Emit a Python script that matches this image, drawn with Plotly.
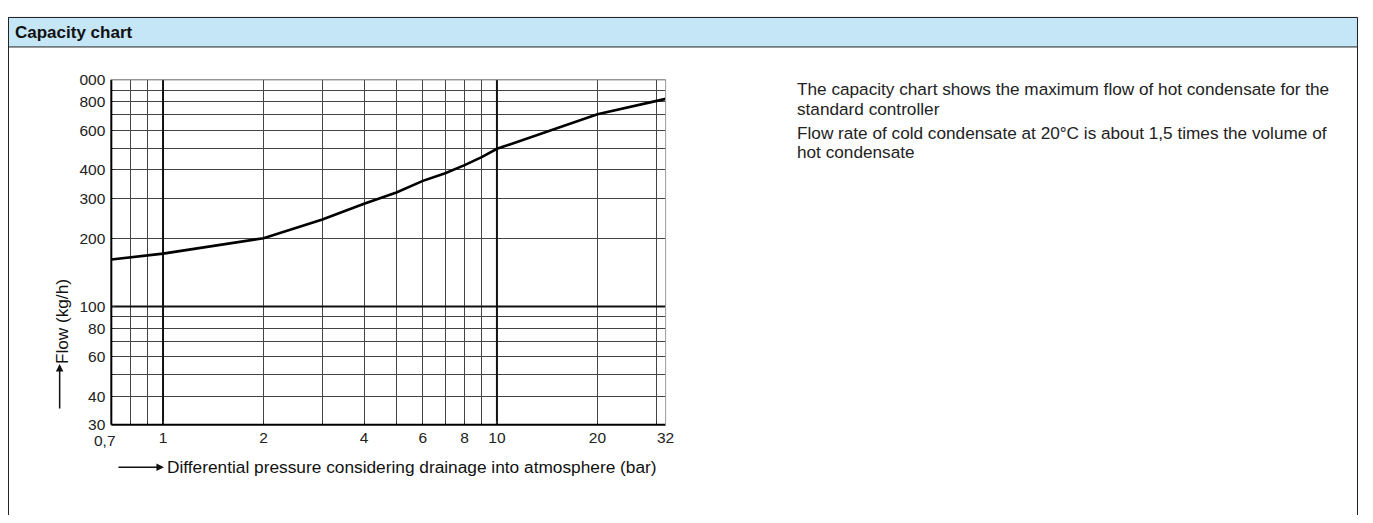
import plotly.graph_objects as go
import numpy as np

# ---- data ----
pressure = [0.7, 1, 2, 3, 4, 5, 6, 7, 8, 9, 10, 20, 32]
flow = [161, 171, 200, 242, 284, 318, 358, 387, 420, 456, 496, 704, 824]

x_grid = [0.7, 0.8, 0.9, 1, 2, 3, 4, 5, 6, 7, 8, 9, 10, 20, 30, 32]
x_labels = ["", "", "", "1", "2", "", "4", "", "6", "", "8", "", "10", "20", "", "32"]
y_grid = [30, 40, 50, 60, 70, 80, 90, 100, 200, 300, 400, 500, 600, 700, 800, 900, 1000]
y_labels = ["30", "40", "", "60", "", "80", "", "100", "200", "300", "400", "", "600", "", "800", "", "000"]
first_x_label = "0,7"
major_x = [1, 10]
major_y = [100]

header_title = "Capacity chart"
x_title = "Differential pressure considering drainage into atmosphere (bar)"
y_title = "Flow (kg/h)"
notes = [
    ["The capacity chart shows the maximum flow of hot condensate for the", "standard controller"],
    ["Flow rate of cold condensate at 20°C is about 1,5 times the volume of", "hot condensate"],
]

# page body margin offsets the figure by 8px; keep figure inside the window
OFF = 8
W, H = 1373 - 2 * OFF, 523 - 2 * OFF
FONT = "Liberation Sans, Arial, sans-serif"


def px(x):
    return (x - OFF) / W


def py(y):
    return 1 - (y - OFF) / H


fig = go.Figure()

for xv in major_x:
    fig.add_trace(go.Scatter(x=[xv, xv], y=[y_grid[0], y_grid[-1]], mode="lines",
                             line=dict(color="#111", width=2), hoverinfo="skip", showlegend=False))
for yv in major_y:
    fig.add_trace(go.Scatter(x=[pressure[0], pressure[-1]], y=[yv, yv], mode="lines",
                             line=dict(color="#111", width=2), hoverinfo="skip", showlegend=False))

fig.add_trace(go.Scatter(x=pressure, y=flow, mode="lines",
                         line=dict(color="#000", width=2.6), showlegend=False))

fig.update_xaxes(type="log", range=[np.log10(0.7), np.log10(32)],
                 domain=[px(112), px(670)],
                 tickvals=x_grid, ticktext=x_labels,
                 showgrid=True, gridcolor="#444", gridwidth=1.2,
                 ticks="inside", ticklen=4, tickcolor="#333",
                 ticklabelstandoff=2,
                 showline=False, zeroline=False,
                 tickfont=dict(family=FONT, size=15.5, color="#222"))
fig.update_yaxes(type="log", range=[np.log10(30), np.log10(1000)],
                 domain=[py(430), py(73)],
                 tickvals=y_grid, ticktext=y_labels,
                 showgrid=True, gridcolor="#444", gridwidth=1.2,
                 ticks="inside", ticklen=4, tickcolor="#333",
                 ticklabelstandoff=5,
                 showline=False, zeroline=False,
                 tickfont=dict(family=FONT, size=15.5, color="#222"))

shapes = [
    dict(type="rect", xref="paper", yref="paper", x0=px(8.5), x1=px(1366.5), y0=-0.2, y1=py(8.5),
         line=dict(color="#222", width=1), fillcolor="rgba(0,0,0,0)", layer="below"),
    dict(type="rect", xref="paper", yref="paper", x0=px(8.5), x1=px(1366.5), y0=py(39), y1=py(8.5),
         line=dict(color="#222", width=1), fillcolor="#c4e6f6", layer="below"),
    dict(type="line", xref="x domain", yref="y domain", x0=0, x1=0, y0=0, y1=1,
         line=dict(color="#000", width=2)),
    dict(type="line", xref="x domain", yref="y domain", x0=0, x1=1, y0=0, y1=0,
         line=dict(color="#000", width=2)),
    dict(type="line", xref="x domain", yref="y domain", x0=1, x1=1, y0=0, y1=1,
         line=dict(color="#999", width=1)),
    dict(type="line", xref="x domain", yref="y domain", x0=0, x1=1, y0=1, y1=1,
         line=dict(color="#666", width=1)),
]

annotations = [
    dict(text="<b>" + header_title + "</b>", xref="paper", yref="paper", x=px(13), y=py(24),
         xanchor="left", yanchor="middle", showarrow=False,
         font=dict(family=FONT, size=17, color="#111")),
    dict(text=first_x_label, xref="paper", yref="paper", x=px(106), y=py(446),
         xanchor="center", yanchor="middle", showarrow=False,
         font=dict(family=FONT, size=15.5, color="#222")),
    dict(text=x_title, xref="paper", yref="paper", x=px(166), y=py(474),
         xanchor="left", yanchor="middle", showarrow=False,
         font=dict(family=FONT, size=17.3, color="#111")),
    dict(text="", xref="paper", yref="paper", x=px(165), y=py(474), axref="pixel", ayref="pixel",
         ax=-47, ay=0, showarrow=True, arrowhead=2, arrowsize=1, arrowwidth=1.5, arrowcolor="#111"),
    dict(text=y_title, xref="paper", yref="paper", x=px(63), y=py(323), textangle=-90,
         xanchor="center", yanchor="middle", showarrow=False,
         font=dict(family=FONT, size=17.2, color="#111")),
    dict(text="", xref="paper", yref="paper", x=px(60), y=py(367), axref="pixel", ayref="pixel",
         ax=0, ay=46, showarrow=True, arrowhead=2, arrowsize=1, arrowwidth=1.5, arrowcolor="#111"),
]

line_ys = [[83, 103], [128, 148]]
for para, ys in zip(notes, line_ys):
    for txt, yy in zip(para, ys):
        annotations.append(dict(text=txt, xref="paper", yref="paper", x=px(800), y=py(yy),
                                xanchor="left", yanchor="middle", showarrow=False,
                                font=dict(family=FONT, size=17.2, color="#222")))

fig.update_layout(width=W, height=H, margin=dict(l=0, r=0, t=0, b=0),
                  paper_bgcolor="white", plot_bgcolor="white",
                  shapes=shapes, annotations=annotations, showlegend=False)

fig.write_html("out.html")
